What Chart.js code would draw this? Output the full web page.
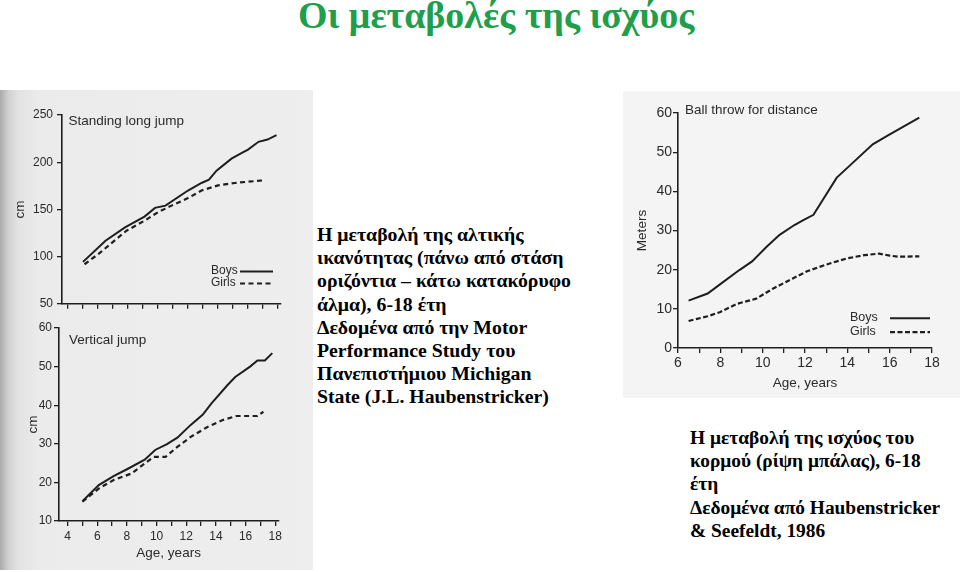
<!DOCTYPE html>
<html><head><meta charset="utf-8">
<script src="https://cdn.jsdelivr.net/npm/chart.js@4/dist/chart.umd.min.js"></script>
<style>
html,body{margin:0;padding:0;background:#fff;width:960px;height:572px;overflow:hidden;position:relative}
.abs{position:absolute}
.txt{position:absolute;font-family:'Liberation Serif','Times New Roman',serif;font-weight:bold;color:#000;white-space:nowrap}
canvas{position:absolute}
</style></head><body>
<div class="abs" style="left:0;top:90px;width:313px;height:480px;background:linear-gradient(to right,#a9a9a9 0px,#cfcfcf 8px,#e3e3e3 18px,#ebebeb 40px,#eeeeee 100%)"></div>
<div class="abs" style="left:623px;top:91px;width:337px;height:307px;background:#f4f4f4"></div>

<div class="txt" style="left:298px;top:-4px;font-size:38px;line-height:38px;color:#1f9e4b">Οι μεταβολές της ισχύος</div>

<div class="txt" style="left:317px;top:223px;font-size:19.8px;line-height:23.2px">Η μεταβολή της αλτικής<br>ικανότητας (πάνω από στάση<br>οριζόντια – κάτω κατακόρυφο<br>άλμα), 6-18 έτη<br>Δεδομένα από την Motor<br>Performance Study του<br>Πανεπιστήμιου Michigan<br>State (J.L. Haubenstricker)</div>

<div class="txt" style="left:690px;top:426px;font-size:19.4px;line-height:23.2px">Η μεταβολή της ισχύος του<br>κορμού (ρίψη μπάλας), 6-18<br>έτη<br>Δεδομένα από Haubenstricker<br>&amp; Seefeldt, 1986</div>

<canvas id="c1" width="285" height="215" style="left:0;top:100px"></canvas>
<canvas id="c2" width="285" height="255" style="left:0;top:315px"></canvas>
<canvas id="c3" width="337" height="300" style="left:623px;top:95px"></canvas>

<script>
// ---------- DATA ----------
// Standing long jump (cm)
const sljBoysAges  = [5.0, 6.5, 7.8, 9.1, 9.8, 10.5, 12.0, 12.9, 13.4, 13.9, 14.9, 15.5, 16.0, 16.7, 17.3, 17.9];
const sljBoys      = [94.4, 116.8, 131, 142.4, 151.6, 154, 170, 178, 181.4, 191, 203.8, 209, 213.4, 221.6, 224, 228.7];
const sljGirlsAges = [5.1, 6.1, 6.8, 7.9, 9.1, 10.0, 10.9, 12.0, 12.9, 14.0, 15.1, 17.0];
const sljGirls     = [91.9, 103.6, 113, 127.4, 138, 147, 154, 162, 170, 175.4, 178, 180.7];
const sljYTicks    = [50, 100, 150, 200, 250];

// Vertical jump (cm)
const vjBoysAges  = [5.0, 6.1, 7.1, 8.1, 9.2, 9.9, 10.7, 11.4, 12.3, 13.1, 13.7, 14.8, 15.3, 16.3, 16.8, 17.3, 17.8];
const vjBoys      = [15.1, 19.3, 21.6, 23.6, 25.9, 28.4, 29.9, 31.6, 34.9, 37.5, 40.5, 45.3, 47.3, 50, 51.6, 51.6, 53.5];
const vjGirlsAges = [5.0, 6.1, 7.1, 8.3, 9.2, 9.8, 10.6, 11.4, 12.3, 13.4, 14.5, 15.4, 16.8, 17.2];
const vjGirls     = [15, 18.4, 20.6, 22.3, 24.9, 26.6, 26.6, 29.2, 31.8, 34.3, 36.2, 37.2, 37.2, 38.3];
const vjYTicks    = [10, 20, 30, 40, 50, 60];

// Ball throw for distance (meters)
const btBoysAges  = [6.5, 7.4, 8.0, 8.9, 9.5, 10.2, 10.8, 11.5, 11.9, 12.4, 13.5, 14.1, 15.2, 15.9, 17.4];
const btBoys      = [12.1, 13.9, 16.3, 19.9, 22.1, 25.9, 28.9, 31.4, 32.6, 34.0, 43.5, 46.5, 52.0, 54.2, 58.8];
const btGirlsAges = [6.5, 7.4, 8.0, 8.8, 9.7, 10.5, 11.4, 12.1, 13.0, 14.0, 14.8, 15.5, 16.0, 16.4, 17.4];
const btGirls     = [6.9, 8.1, 9.2, 11.3, 12.6, 15.2, 17.7, 19.6, 21.3, 22.9, 23.7, 24.1, 23.6, 23.3, 23.4];
const btYTicks    = [0, 10, 20, 30, 40, 50, 60];

// Age axis ticks and labels
const leftAgeTicks  = [4,5,6,7,8,9,10,11,12,13,14,15,16,17,18];
const rightAgeTicks = [6,7,8,9,10,11,12,13,14,15,16,17,18];
const ageLabels     = [4,6,8,10,12,14,16,18];

const seriesNames = ['Boys', 'Girls'];
const panelTitles = ['Standing long jump', 'Vertical jump', 'Ball throw for distance'];

// ---------- STYLE ----------
const INK = '#1e1e1e';
const TXT = '#2a2a2a';
Chart.defaults.font.family = "'Liberation Sans', Arial, sans-serif";
Chart.defaults.color = TXT;

const pts = (xs, ys) => xs.map((x, i) => ({x, y: ys[i]}));

const panelText = {
  id: 'panelText',
  afterDraw(chart, args, o) {
    const {ctx, chartArea: a} = chart;
    ctx.save();
    ctx.fillStyle = TXT;
    ctx.textBaseline = 'middle';
    ctx.textAlign = 'left';
    ctx.font = o.titleSize + "px 'Liberation Sans', Arial, sans-serif";
    ctx.fillText(o.title, a.left + o.titleX, a.top + o.titleY);
    if (o.legend) {
      ctx.font = o.legendSize + "px 'Liberation Sans', Arial, sans-serif";
      chart.data.datasets.forEach((ds, i) => {
        const y = a.top + o.legY + i * o.legGap;
        ctx.fillStyle = TXT;
        ctx.fillText(ds.label, a.left + o.legX, y);
        ctx.beginPath();
        ctx.strokeStyle = INK;
        ctx.lineWidth = ds.borderWidth;
        ctx.setLineDash(ds.borderDash || []);
        ctx.moveTo(a.left + o.lineX0, y + 0.5);
        ctx.lineTo(a.left + o.lineX1, y + 0.5);
        ctx.stroke();
      });
    }
    ctx.restore();
  }
};

function axisBase(tickLen) {
  return {
    grid: {display: true, drawOnChartArea: false, drawTicks: true, tickLength: tickLen, color: INK, lineWidth: 1.3},
    border: {display: true, color: INK, width: 1.6}
  };
}

function makeChart(id, cfg) {
  const base = axisBase(cfg.tickLen);
  new Chart(document.getElementById(id), {
    type: 'line',
    data: {
      datasets: [
        {label: seriesNames[0], data: pts(cfg.bx, cfg.by), borderColor: INK, borderWidth: 2, pointRadius: 0, tension: 0, fill: false},
        {label: seriesNames[1], data: pts(cfg.gx, cfg.gy), borderColor: INK, borderWidth: 2.2, borderDash: cfg.dash, pointRadius: 0, tension: 0, fill: false}
      ]
    },
    options: {
      responsive: false,
      animation: false,
      devicePixelRatio: 1,
      layout: {padding: cfg.pad},
      plugins: {legend: {display: false}, tooltip: {enabled: false}, title: {display: false}, panelText: cfg.text},
      scales: {
        x: {
          type: 'linear', min: cfg.xmin, max: cfg.xmax,
          grid: base.grid, border: base.border,
          afterBuildTicks: s => { s.ticks = cfg.xticks.map(v => ({value: v})); },
          afterFit: s => { s.height = cfg.xh; },
          ticks: {autoSkip: false, maxRotation: 0, padding: cfg.xTickPad, font: {size: cfg.tickSize}, color: TXT,
                  callback: v => (cfg.xLabels && ageLabels.includes(v)) ? String(v) : ''},
          title: cfg.xTitle ? {display: true, text: 'Age, years', color: TXT, font: {size: 13.5}, padding: {top: 0, bottom: cfg.xTitlePad}} : {display: false}
        },
        y: {
          type: 'linear', min: cfg.ymin, max: cfg.ymax,
          grid: base.grid, border: base.border,
          afterBuildTicks: s => { s.ticks = cfg.yticks.map(v => ({value: v})); },
          afterFit: s => { s.width = cfg.yw; },
          ticks: {autoSkip: false, padding: cfg.yTickPad, font: {size: cfg.tickSize}, color: TXT},
          title: {display: true, text: cfg.yTitle, color: TXT, font: {size: 13.5}, padding: {top: cfg.yTitlePad, bottom: 0}}
        }
      }
    },
    plugins: [panelText]
  });
}

makeChart('c1', {
  bx: sljBoysAges, by: sljBoys, gx: sljGirlsAges, gy: sljGirls, dash: [5, 3.5],
  xmin: 3.6, xmax: 18.2, ymin: 50, ymax: 250, xticks: leftAgeTicks, yticks: sljYTicks,
  xLabels: false, xTitle: false, xh: 9, yw: 62, tickLen: 5, tickSize: 12, xTickPad: 2, yTickPad: 4,
  yTitle: 'cm', yTitlePad: 12, pad: {top: 15, right: 4, left: 0, bottom: 0},
  text: {title: panelTitles[0], titleSize: 13.5, titleX: 6.5, titleY: 6.7, legend: true, legendSize: 12,
         legX: 149, legY: 156, legGap: 12, lineX0: 178, lineX1: 211}
});

makeChart('c2', {
  bx: vjBoysAges, by: vjBoys, gx: vjGirlsAges, gy: vjGirls, dash: [5, 3.5],
  xmin: 3.42, xmax: 18.2, ymin: 10, ymax: 60, xticks: leftAgeTicks, yticks: vjYTicks,
  xLabels: true, xTitle: true, xTitlePad: 8.6, xh: 49, yw: 59, tickLen: 5, tickSize: 12, xTickPad: 3, yTickPad: 2,
  yTitle: 'cm', yTitlePad: 25, pad: {top: 13, right: 4, left: 0, bottom: 0},
  text: {title: panelTitles[1], titleSize: 13.5, titleX: 10, titleY: 12.7, legend: false}
});

makeChart('c3', {
  bx: btBoysAges, by: btBoys, gx: btGirlsAges, gy: btGirls, dash: [5, 2.5],
  xmin: 6, xmax: 18, ymin: 0, ymax: 60, xticks: rightAgeTicks, yticks: btYTicks,
  xLabels: true, xTitle: true, xTitlePad: 4, xh: 47, yw: 55, tickLen: 5, tickSize: 14, xTickPad: 2, yTickPad: 1,
  yTitle: 'Meters', yTitlePad: 11.6, pad: {top: 18, right: 28, left: 0, bottom: 0},
  text: {title: panelTitles[2], titleSize: 13.5, titleX: 7, titleY: -2.6, legend: true, legendSize: 12.5,
         legX: 172, legY: 204.7, legGap: 14, lineX0: 212, lineX1: 252}
});
</script>
</body></html>
